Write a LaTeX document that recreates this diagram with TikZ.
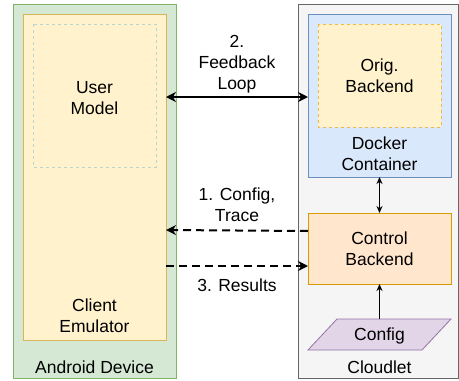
\documentclass[tikz,border=0pt]{standalone}
\usepackage{fontspec}
\setmainfont{Liberation Sans}
\usetikzlibrary{arrows.meta}
\definecolor{grfill}{HTML}{D5E8D4}\definecolor{grline}{HTML}{82B366}
\definecolor{yefill}{HTML}{FFF2CC}\definecolor{yeline}{HTML}{D6B656}
\definecolor{blfill}{HTML}{DAE8FC}\definecolor{blline}{HTML}{6C8EBF}
\definecolor{orfill}{HTML}{FFE6CC}\definecolor{orline}{HTML}{D79B00}
\definecolor{pufill}{HTML}{E1D5E7}\definecolor{puline}{HTML}{9673A6}
\definecolor{gyfill}{HTML}{F5F5F5}\definecolor{gyline}{HTML}{666666}
\definecolor{umline}{HTML}{B9D6CE}\definecolor{obline}{HTML}{EDBB45}
\begin{document}
\begin{tikzpicture}[x=1pt,y=-1pt,
  lbl/.style={font=\fontsize{17.5}{21}\selectfont, align=center, inner sep=0pt},
  box/.style={line width=0.8pt},
  thick arrow/.style={line width=2pt, -{Stealth[length=10pt,width=10pt]}},
  dash arrow/.style={line width=2pt, dash pattern=on 8pt off 5pt, -{Stealth[length=10pt,width=10pt]}},
  thin arrow/.style={line width=1pt, -{Stealth[length=7pt,width=6pt]}}]
\useasboundingbox (0,0) rectangle (459,381);
% Android device
\draw[box, draw=grline, fill=grfill] (13,4) rectangle (176,378);
\node[lbl] (android) at (94.5,367) {Android Device};
\draw[box, draw=yeline, fill=yefill] (23,14) rectangle (166,340);
\node[lbl] (client) at (94.5,316) {Client\\Emulator};
\draw[box, draw=umline, dash pattern=on 3pt off 3pt] (33,24) rectangle (156,167);
\node[lbl] (user) at (94.5,98) {User\\Model};
% Cloudlet
\draw[box, draw=gyline, fill=gyfill] (298,4) rectangle (458.5,378);
\node[lbl] (cloudlet) at (379.5,367) {Cloudlet};
\draw[box, draw=blline, fill=blfill] (308,14) rectangle (451,177);
\node[lbl] (docker) at (379.5,154) {Docker\\Container};
\draw[box, draw=obline, fill=yefill, dash pattern=on 3pt off 3pt] (318,24) rectangle (441,127);
\node[lbl] (orig) at (379.5,76) {Orig.\\Backend};
\draw[box, draw=orline, fill=orfill] (308,213) rectangle (451,284);
\node[lbl] (control) at (379.5,249) {Control\\Backend};
\draw[box, draw=puline, fill=pufill] (308,350) -- (337,319) -- (451,319) -- (422,350) -- cycle;
\node[lbl] (config) at (379.5,336) {Config};
% connectors
\coordinate (fbL) at (166,97); \coordinate (fbR) at (308,97);
\draw[thick arrow, {Stealth[length=10pt,width=10pt]}-{Stealth[length=10pt,width=10pt]}] (fbL) -- (fbR);
\node[lbl] (fb) at (237,64) {2.\\Feedback\\Loop};
\coordinate (c1R) at (308,231); \coordinate (c1L) at (166,230);
\draw[dash arrow] (c1R) -- (c1L);
\node[lbl] (cfg) at (237,205) {1. Config,\\Trace};
\coordinate (c3L) at (166,266); \coordinate (c3R) at (308,266);
\draw[dash arrow] (c3L) -- (c3R);
\node[lbl] (res) at (237,285) {3. Results};
\coordinate (dkB) at (379.5,177); \coordinate (ctT) at (379.5,213);
\draw[thin arrow, {Stealth[length=7pt,width=6pt]}-{Stealth[length=7pt,width=6pt]}] (dkB) -- (ctT);
\coordinate (cfT) at (379.5,319); \coordinate (ctB) at (379.5,284);
\draw[thin arrow] (cfT) -- (ctB);
\end{tikzpicture}
\end{document}
